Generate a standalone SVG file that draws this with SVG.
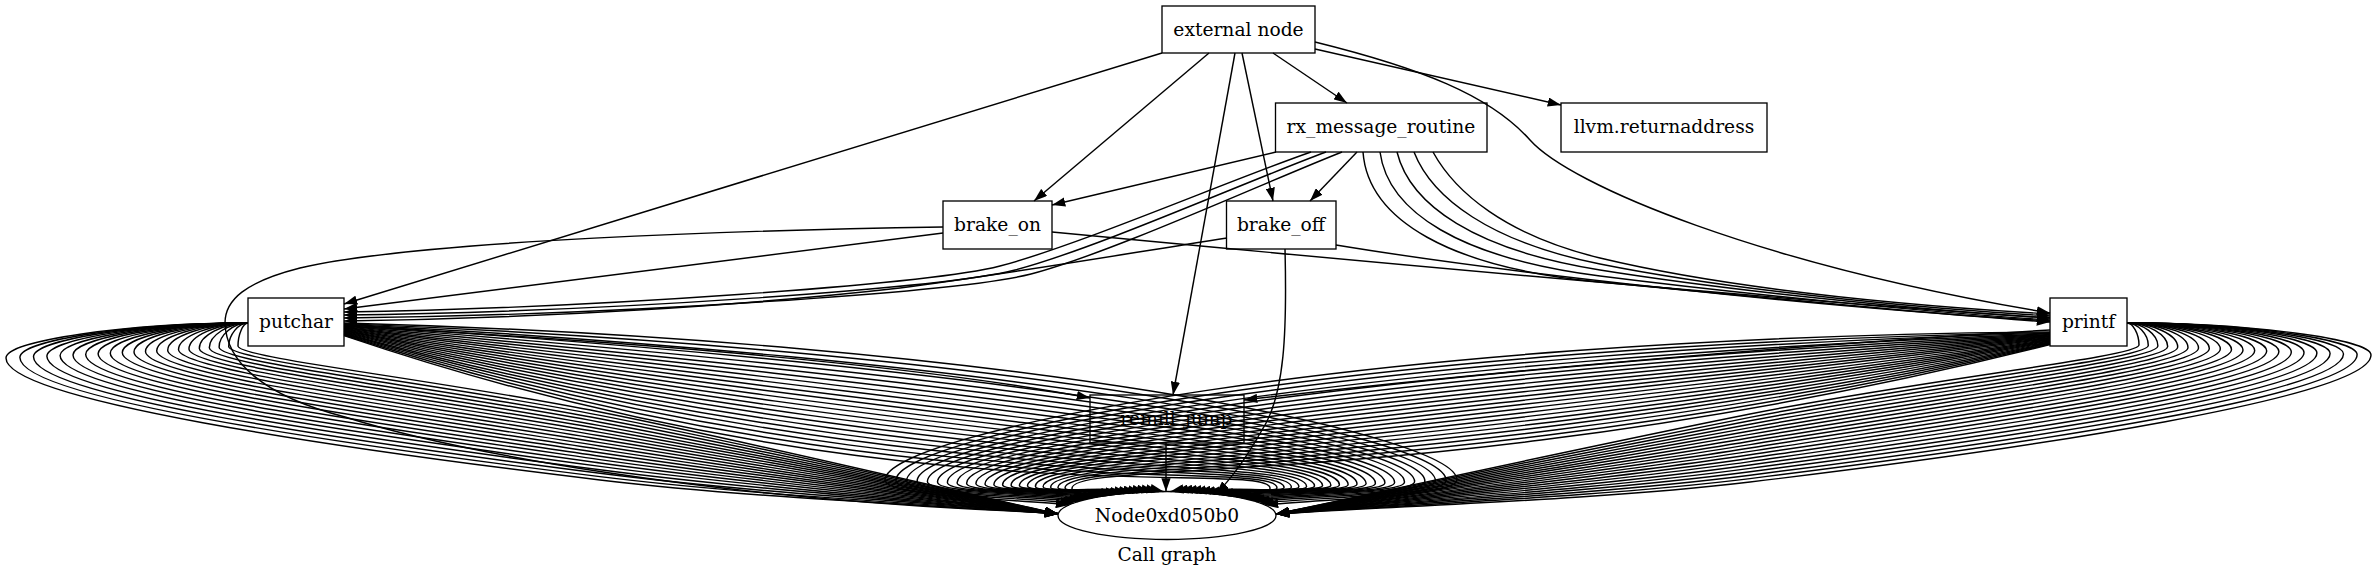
<svg xmlns="http://www.w3.org/2000/svg" width="2376" height="576" viewBox="0 0 2376 576">
<style>
.n rect, .n ellipse {fill:none; stroke:#000; stroke-width:1.33}
text {font-family:'DejaVu Serif','Liberation Serif',serif; font-size:18.67px; text-anchor:middle; fill:#000}
#edges path {fill:none; stroke:#000; stroke-width:1.45; marker-end:url(#ah)}
</style>
<defs>
<marker id="ah" viewBox="0 0 10 7" refX="10" refY="3.5" markerWidth="13.3" markerHeight="9.3" markerUnits="userSpaceOnUse" orient="auto"><path d="M0,0L10,3.5L0,7z" fill="#000"/></marker>
</defs>
<rect width="2376" height="576" fill="#fff"/>
<g id="node-external" class="n"><rect x="1162" y="6" width="153" height="47"/><text x="1238.5" y="35.5">external node</text></g>
<g id="node-rx_message_routine" class="n"><rect x="1275.5" y="103" width="211.5" height="49"/><text x="1381" y="133">rx_message_routine</text></g>
<g id="node-llvm_returnaddress" class="n"><rect x="1561" y="103" width="206" height="49"/><text x="1664" y="133">llvm.returnaddress</text></g>
<g id="node-brake_on" class="n"><rect x="943" y="201" width="109" height="48"/><text x="997.5" y="231">brake_on</text></g>
<g id="node-brake_off" class="n"><rect x="1226.5" y="201" width="109.5" height="48"/><text x="1281" y="231">brake_off</text></g>
<g id="node-putchar" class="n"><rect x="248" y="298" width="96" height="48"/><text x="296" y="327.5">putchar</text></g>
<g id="node-printf" class="n"><rect x="2050" y="298" width="77" height="48"/><text x="2088.5" y="327.5">printf</text></g>
<g id="node-remill_jump" class="n"><rect x="1090" y="395" width="154" height="48"/><text x="1167" y="424.5">__remill_jump</text></g>
<g id="node-Node0xd050b0" class="n"><ellipse cx="1167" cy="515.5" rx="109" ry="24"/><text x="1167" y="522">Node0xd050b0</text></g>
<g id="edges">
<path d="M1162,53L344,304"/>
<path d="M1209,53L1034,201"/>
<path d="M1235,53L1173,395"/>
<path d="M1242,53L1273,201"/>
<path d="M1273,53L1347,103"/>
<path d="M1315,49L1561,105"/>
<path d="M1315,42C1420,68 1490,95 1530,140C1570,185 1760,265 2050,313"/>
<path d="M1276,152L1052,205"/>
<path d="M1357,152L1310,201"/>
<path d="M1311,152C1230,180 1080,245 1000,266C930,284 600,308 344,312"/>
<path d="M1326,152C1245,182 1095,249 1015,270C945,288 610,312 344,315"/>
<path d="M1342,152C1261,184 1111,253 1031,274C961,292 620,315 344,318"/>
<path d="M1363,152C1368,220 1450,268 1600,282C1750,296 1950,316 2050,322"/>
<path d="M1380,152C1388,212 1460,258 1600,276C1750,295 1950,314 2050,320"/>
<path d="M1397,152C1410,205 1475,250 1600,270C1750,294 1950,312 2050,318"/>
<path d="M1414,152C1432,198 1490,242 1600,264C1750,294 1950,310 2050,316"/>
<path d="M1433,152C1455,192 1505,235 1600,258C1750,294 1950,308 2050,314"/>
<path d="M943,233L344,309"/>
<path d="M943,227C750,230 420,240 300,268C245,282 225,300 225,323C226,360 260,395 345,417C450,450 700,500 1058,513"/>
<path d="M1052,232C1400,265 1800,302 2050,318"/>
<path d="M1227,238C1100,258 1000,275 900,288C750,305 550,318 344,321"/>
<path d="M1336,245C1500,272 1800,306 2050,321"/>
<path d="M1285,249C1287,330 1285,395 1262,430C1248,455 1235,475 1216,494"/>
<path d="M1166,443L1166,491.5"/>
<path d="M344,326C600,340 900,362 1090,398"/>
<path d="M2050,330C1800,345 1500,370 1244,400"/>
<path d="M248,323C127,323 6,340.5 6,358C6,400 332.7,447.9 600,480C750,498 938,505.1 1058,514"/>
<path d="M248,323C133.9,323 19.9,340.2 19.9,357.4C19.9,397.9 339,444.2 600,476.6C750,495.2 938,504.2 1058,514"/>
<path d="M248,323C140.8,323 33.5,339.9 33.5,356.8C33.5,395.8 345.1,440.6 600,473.2C750,492.4 938,503.3 1058,514"/>
<path d="M248,323C147.5,323 46.9,339.6 46.9,356.2C46.9,393.7 351.1,436.9 600,469.8C750,489.6 938,502.4 1058,514"/>
<path d="M248,323C154.1,323 60.1,339.3 60.1,355.6C60.1,391.6 357,433.4 600,466.4C750,486.8 938,501.5 1058,514"/>
<path d="M248,323C160.5,323 73,339 73,355C73,389.5 362.8,429.8 600,463C750,484 938,500.6 1058,514"/>
<path d="M248,323C166.9,323 85.7,338.7 85.7,354.4C85.7,387.4 368.6,426.3 600,459.6C750,481.2 938,499.7 1058,514"/>
<path d="M248,323C173.1,323 98.1,338.4 98.1,353.8C98.1,385.3 374.1,422.8 600,456.2C750,478.4 938,498.9 1058,514"/>
<path d="M248,323C179.2,323 110.3,338.1 110.3,353.2C110.3,383.2 379.6,419.3 600,452.8C750,475.6 938,498 1058,514"/>
<path d="M248,323C185.2,323 122.3,337.8 122.3,352.6C122.3,381.1 385,415.9 600,449.4C750,472.8 938,497.1 1058,514"/>
<path d="M248,323C191,323 134,337.5 134,352C134,379 390.3,412.4 600,446C750,470 938,496.2 1058,514"/>
<path d="M248,323C196.8,323 145.5,337.2 145.5,351.4C145.5,376.9 395.5,409.1 600,442.6C750,467.2 938,495.3 1058,514"/>
<path d="M248,323C202.4,323 156.7,336.9 156.7,350.8C156.7,374.8 400.5,405.7 600,439.2C750,464.4 938,494.4 1058,514"/>
<path d="M248,323C207.9,323 167.7,336.6 167.7,350.2C167.7,372.7 405.5,402.3 600,435.8C750,461.6 938,493.5 1058,514"/>
<path d="M248,323C213.3,323 178.5,336.3 178.5,349.6C178.5,370.6 410.3,399 600,432.4C750,458.8 938,492.6 1058,514"/>
<path d="M248,323C218.5,323 189,336 189,349C189,368.5 415,395.7 600,429C750,456 938,491.7 1058,514"/>
<path d="M248,323C223.7,323 199.3,335.7 199.3,348.4C199.3,366.4 419.7,392.4 600,425.6C750,453.2 938,490.8 1058,514"/>
<path d="M248,323C228.7,323 209.3,335.4 209.3,347.8C209.3,364.3 424.2,389.1 600,422.2C750,450.4 938,490 1058,514"/>
<path d="M248,323C233.6,323 219.1,335.1 219.1,347.2C219.1,362.2 428.6,385.9 600,418.8C750,447.6 938,489.1 1058,514"/>
<path d="M248,323C238.4,323 228.7,334.8 228.7,346.6C228.7,360.1 432.9,382.6 600,415.4C750,444.8 938,488.2 1058,514"/>
<path d="M248,323C243,323 238,334.5 238,346C238,358 437.1,379.4 600,412C750,442 938,487.3 1058,514"/>
<path d="M2127,323C2249,323 2371,339 2371,355C2371,397 2029.5,448.5 1750,482C1600,500 1396,505.9 1276,514"/>
<path d="M2127,323C2242.1,323 2357.1,338.8 2357.1,354.5C2357.1,395 2023.2,444.7 1750,478.6C1600,497.2 1396,505 1276,514"/>
<path d="M2127,323C2235.3,323 2343.5,338.5 2343.5,354C2343.5,393 2017.1,441 1750,475.2C1600,494.4 1396,504.2 1276,514"/>
<path d="M2127,323C2228.6,323 2330.1,338.2 2330.1,353.5C2330.1,391 2011,437.3 1750,471.8C1600,491.6 1396,503.3 1276,514"/>
<path d="M2127,323C2222,323 2316.9,338 2316.9,353C2316.9,389 2005.1,433.7 1750,468.4C1600,488.8 1396,502.5 1276,514"/>
<path d="M2127,323C2215.5,323 2304,337.8 2304,352.5C2304,387 1999.3,430.1 1750,465C1600,486 1396,501.6 1276,514"/>
<path d="M2127,323C2209.2,323 2291.3,337.5 2291.3,352C2291.3,385 1993.6,426.5 1750,461.6C1600,483.2 1396,500.7 1276,514"/>
<path d="M2127,323C2203,323 2278.9,337.2 2278.9,351.5C2278.9,383 1988,423 1750,458.2C1600,480.4 1396,499.9 1276,514"/>
<path d="M2127,323C2196.8,323 2266.7,337 2266.7,351C2266.7,381 1982.5,419.5 1750,454.8C1600,477.6 1396,499 1276,514"/>
<path d="M2127,323C2190.8,323 2254.7,336.8 2254.7,350.5C2254.7,379 1977.1,416 1750,451.4C1600,474.8 1396,498.1 1276,514"/>
<path d="M2127,323C2185,323 2243,336.5 2243,350C2243,377 1971.9,412.5 1750,448C1600,472 1396,497.3 1276,514"/>
<path d="M2127,323C2179.3,323 2231.5,336.2 2231.5,349.5C2231.5,375 1966.7,409.1 1750,444.6C1600,469.2 1396,496.4 1276,514"/>
<path d="M2127,323C2173.7,323 2220.3,336 2220.3,349C2220.3,373 1961.6,405.7 1750,441.2C1600,466.4 1396,495.6 1276,514"/>
<path d="M2127,323C2168.2,323 2209.3,335.8 2209.3,348.5C2209.3,371 1956.7,402.2 1750,437.8C1600,463.6 1396,494.7 1276,514"/>
<path d="M2127,323C2162.8,323 2198.5,335.5 2198.5,348C2198.5,369 1951.8,398.9 1750,434.4C1600,460.8 1396,493.9 1276,514"/>
<path d="M2127,323C2157.5,323 2188,335.2 2188,347.5C2188,367 1947.1,395.5 1750,431C1600,458 1396,493 1276,514"/>
<path d="M2127,323C2152.4,323 2177.7,335 2177.7,347C2177.7,365 1942.5,392.2 1750,427.6C1600,455.2 1396,492.1 1276,514"/>
<path d="M2127,323C2147.4,323 2167.7,334.8 2167.7,346.5C2167.7,363 1938,388.9 1750,424.2C1600,452.4 1396,491.3 1276,514"/>
<path d="M2127,323C2142.5,323 2157.9,334.5 2157.9,346C2157.9,361 1933.6,385.5 1750,420.8C1600,449.6 1396,490.4 1276,514"/>
<path d="M2127,323C2137.7,323 2148.3,334.2 2148.3,345.5C2148.3,359 1929.2,382.3 1750,417.4C1600,446.8 1396,489.5 1276,514"/>
<path d="M2127,323C2133,323 2139,334 2139,345C2139,357 1925,379 1750,414C1600,444 1396,488.7 1276,514"/>
<path d="M344,323C1011.8,341 1457,434 1457,480C1457,496.5 1322.6,499 1265,505"/>
<path d="M344,323.6C1005.3,349.7 1446.1,435.2 1446.1,480.4C1446.1,495.8 1316.2,497.2 1260.5,503.2"/>
<path d="M344,324.2C998.8,358.4 1435.4,436.3 1435.4,480.8C1435.4,495.2 1309.8,495.6 1256,501.6"/>
<path d="M344,324.8C992.5,367.1 1424.9,437.5 1424.9,481.2C1424.9,494.8 1303.5,494.3 1251.5,500.3"/>
<path d="M344,325.4C986.4,375.8 1414.6,438.7 1414.6,481.6C1414.6,494.4 1297.3,493.2 1247,499.2"/>
<path d="M344,326C980.3,384.5 1404.5,439.8 1404.5,482C1404.5,494.1 1291.1,492.2 1242.5,498.2"/>
<path d="M344,326.6C974.4,393.2 1394.6,441 1394.6,482.4C1394.6,493.9 1284.8,491.3 1238,497.3"/>
<path d="M344,327.2C968.5,401.9 1384.9,442.1 1384.9,482.8C1384.9,493.7 1278.9,490.5 1233.5,496.5"/>
<path d="M344,327.8C962.8,410.6 1375.4,443.3 1375.4,483.2C1375.4,493.5 1272.9,489.8 1229,495.8"/>
<path d="M344,328.4C957.3,419.3 1366.1,444.5 1366.1,483.6C1366.1,493.4 1267,489.1 1224.5,495.1"/>
<path d="M344,329C951.8,428 1357,445.6 1357,484C1357,493.3 1261.1,488.5 1220,494.5"/>
<path d="M344,329.6C946.5,436.7 1348.1,446.8 1348.1,484.4C1348.1,493.2 1255.3,488 1215.5,494"/>
<path d="M344,330.2C941.2,445.4 1339.4,447.9 1339.4,484.8C1339.4,493.2 1249.5,487.5 1211,493.5"/>
<path d="M344,330.8C936.1,454.1 1330.9,449.1 1330.9,485.2C1330.9,493.2 1243.8,487.1 1206.5,493.1"/>
<path d="M344,331.4C931.2,462.8 1322.6,450.3 1322.6,485.6C1322.6,493.2 1238.2,486.8 1202,492.8"/>
<path d="M344,332C926.3,471.5 1314.5,451.4 1314.5,486C1314.5,493.3 1232.6,486.5 1197.5,492.5"/>
<path d="M344,332.6C921.6,480.2 1306.6,452.6 1306.6,486.4C1306.6,493.3 1227.1,486.2 1193,492.2"/>
<path d="M344,333.2C916.9,488.9 1298.9,453.8 1298.9,486.8C1298.9,493.4 1221.6,486 1188.5,492"/>
<path d="M344,333.8C912.4,497.6 1291.4,454.9 1291.4,487.2C1291.4,493.5 1216.2,485.8 1184,491.8"/>
<path d="M344,334.4C908.1,506.3 1284.1,456.1 1284.1,487.6C1284.1,493.6 1210.9,485.7 1179.5,491.7"/>
<path d="M344,335C903.8,515 1277,457.2 1277,488C1277,493.8 1205.6,485.6 1175,491.6"/>
<path d="M344,335.6C899.7,523.7 1270.1,458.4 1270.1,488.4C1270.1,494 1200.4,485.5 1170.5,491.5"/>
<path d="M2050,332C1351,337 885,434 885,480C885,496.5 1013.8,499 1069,505"/>
<path d="M2050,332.6C1357.5,344.4 895.9,435.2 895.9,480.4C895.9,495.8 1020.2,497.2 1073.5,503.2"/>
<path d="M2050,333.2C1364,351.8 906.6,436.3 906.6,480.8C906.6,495.2 1026.6,495.6 1078,501.6"/>
<path d="M2050,333.8C1370.3,359.1 917.1,437.5 917.1,481.2C917.1,494.8 1032.9,494.3 1082.5,500.3"/>
<path d="M2050,334.4C1376.4,366.5 927.4,438.7 927.4,481.6C927.4,494.4 1039.1,493.2 1087,499.2"/>
<path d="M2050,335C1382.5,373.9 937.5,439.8 937.5,482C937.5,494.1 1045.3,492.2 1091.5,498.2"/>
<path d="M2050,335.6C1388.4,381.3 947.4,441 947.4,482.4C947.4,493.9 1051.6,491.3 1096,497.3"/>
<path d="M2050,336.2C1394.3,388.7 957.1,442.1 957.1,482.8C957.1,493.7 1057.5,490.5 1100.5,496.5"/>
<path d="M2050,336.8C1400,396 966.6,443.3 966.6,483.2C966.6,493.5 1063.5,489.8 1105,495.8"/>
<path d="M2050,337.4C1405.5,403.4 975.9,444.5 975.9,483.6C975.9,493.4 1069.4,489.1 1109.5,495.1"/>
<path d="M2050,338C1411,410.8 985,445.6 985,484C985,493.3 1075.3,488.5 1114,494.5"/>
<path d="M2050,338.6C1416.3,418.2 993.9,446.8 993.9,484.4C993.9,493.2 1081.1,488 1118.5,494"/>
<path d="M2050,339.2C1421.6,425.6 1002.6,447.9 1002.6,484.8C1002.6,493.2 1086.9,487.5 1123,493.5"/>
<path d="M2050,339.8C1426.7,432.9 1011.1,449.1 1011.1,485.2C1011.1,493.2 1092.6,487.1 1127.5,493.1"/>
<path d="M2050,340.4C1431.6,440.3 1019.4,450.3 1019.4,485.6C1019.4,493.2 1098.2,486.8 1132,492.8"/>
<path d="M2050,341C1436.5,447.7 1027.5,451.4 1027.5,486C1027.5,493.3 1103.8,486.5 1136.5,492.5"/>
<path d="M2050,341.6C1441.2,455.1 1035.4,452.6 1035.4,486.4C1035.4,493.3 1109.3,486.2 1141,492.2"/>
<path d="M2050,342.2C1445.9,462.5 1043.1,453.8 1043.1,486.8C1043.1,493.4 1114.8,486 1145.5,492"/>
<path d="M2050,342.8C1450.4,469.8 1050.6,454.9 1050.6,487.2C1050.6,493.5 1120.2,485.8 1150,491.8"/>
<path d="M2050,343.4C1454.7,477.2 1057.9,456.1 1057.9,487.6C1057.9,493.6 1125.5,485.7 1154.5,491.7"/>
<path d="M2050,344C1459,484.6 1065,457.2 1065,488C1065,493.8 1130.8,485.6 1159,491.6"/>
<path d="M2050,344.6C1463.1,492 1071.9,458.4 1071.9,488.4C1071.9,494 1136,485.5 1163.5,491.5"/>
</g>
<g id="graph-label"><text x="1167" y="561">Call graph</text></g>
</svg>
